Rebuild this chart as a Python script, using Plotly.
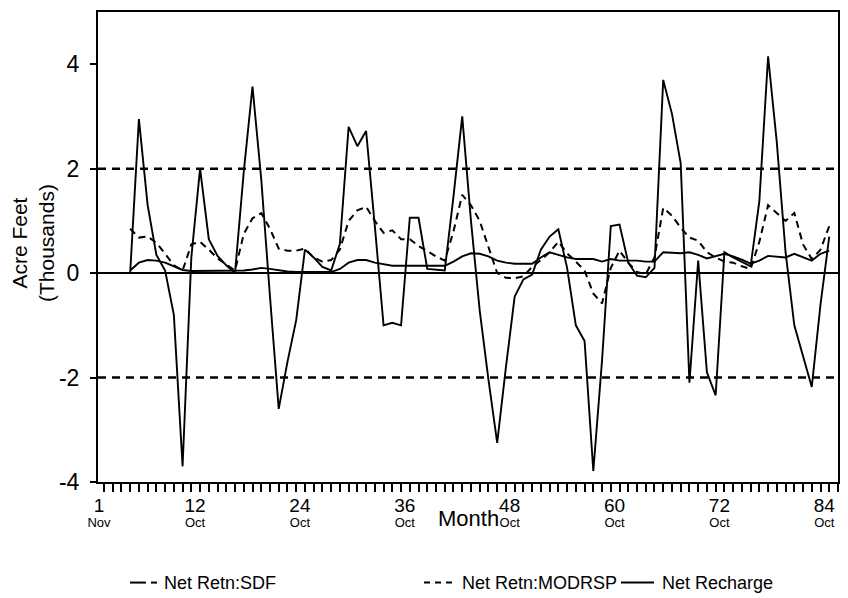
import plotly.graph_objects as go

# monthly values (thousands of acre feet), months 4..84
months = list(range(4, 85))

sdf = [0, 2.95, 1.3, 0.35, 0.05, -0.8, -3.7, 0.3, 2.0, 0.65,
       0.33, 0.15, 0.0, 1.94, 3.57, 1.8, -0.45, -2.6, -1.7, -0.9,
       0.45, 0.3, 0.12, 0.05, 0.56, 2.8, 2.43, 2.72, 0.9, -1.0,
       -0.95, -1.0, 1.06, 1.06, 0.08, 0.06, 0.05, 1.47, 3.0, 1.0,
       -0.72, -2.04, -3.25, -1.8, -0.45, -0.12, -0.03, 0.45, 0.7, 0.84,
       0.1, -1.0, -1.3, -3.79, -1.67, 0.9, 0.93, 0.2, -0.05, -0.08,
       0.1, 3.7, 3.05, 2.1, -2.1, 0.24, -1.9, -2.34, 0.4, 0.3,
       0.22, 0.13, 1.38, 4.15, 2.5, 0.4, -1.0, -1.6, -2.18, -0.6,
       0.7]

modrsp = [0.85, 0.68, 0.7, 0.58, 0.37, 0.15, 0.05, 0.55, 0.6, 0.45,
          0.28, 0.16, 0.05, 0.75, 1.05, 1.15, 0.85, 0.47, 0.43, 0.43,
          0.47, 0.3, 0.22, 0.25, 0.45, 1.0, 1.2, 1.27, 1.0, 0.77,
          0.82, 0.65, 0.65, 0.52, 0.42, 0.32, 0.24, 0.8, 1.5, 1.3,
          1.0, 0.5, 0.0, -0.09, -0.1, -0.06, 0.12, 0.25, 0.4, 0.6,
          0.38, 0.22, 0.05, -0.39, -0.58, 0.1, 0.43, 0.2, 0.02, -0.02,
          0.3, 1.25, 1.1, 0.87, 0.68, 0.62, 0.4, 0.3, 0.22, 0.2,
          0.13, 0.08, 0.6, 1.3, 1.15, 1.0, 1.15, 0.55, 0.27, 0.45,
          0.9]

recharge = [0.05, 0.2, 0.25, 0.24, 0.2, 0.13, 0.06, 0.04, 0.04, 0.04,
            0.04, 0.04, 0.04, 0.05, 0.07, 0.1, 0.08, 0.05, 0.03, 0.02,
            0.02, 0.02, 0.02, 0.02, 0.08, 0.2, 0.25, 0.25, 0.2, 0.17,
            0.14, 0.14, 0.14, 0.14, 0.14, 0.14, 0.14, 0.22, 0.32, 0.38,
            0.37, 0.32, 0.24, 0.2, 0.18, 0.18, 0.18, 0.3, 0.4, 0.35,
            0.3, 0.27, 0.27, 0.27, 0.22, 0.27, 0.24, 0.24, 0.24, 0.22,
            0.22, 0.4, 0.39, 0.38, 0.4, 0.35, 0.28, 0.33, 0.37, 0.32,
            0.26, 0.18, 0.24, 0.33, 0.31, 0.3, 0.37, 0.3, 0.24, 0.37,
            0.43]

tick_vals = [1, 12, 24, 36, 48, 60, 72, 84]
tick_nums = ["1", "12", "24", "36", "48", "60", "72", "84"]
tick_months = ["Nov", "Oct", "Oct", "Oct", "Oct", "Oct", "Oct", "Oct"]
y_ticks = [-4, -2, 0, 2, 4]
y_labels = ["-4", "-2", "0", "2", "4"]
ref_levels = [-2, 2]

NARROW = "Liberation Sans Narrow, Arial Narrow, Liberation Sans, Arial, sans-serif"
SANS = "Liberation Sans, Arial, sans-serif"

# the page body adds 8px around the figure, so the figure is 8px smaller
W, H, OFF = 848, 598, 8
# plot frame in page pixels, used to place the hand-made legend
L, R, T, B = 98, 838, 10, 482


def px(x):
    return (x - L) / (R - L)


def py(y):
    return (B - y) / (B - T)


fig = go.Figure()

fig.add_trace(go.Scatter(x=months, y=sdf, mode="lines", name="Net Retn:SDF",
                         line=dict(color="black", width=1.9)))
fig.add_trace(go.Scatter(x=months, y=modrsp, mode="lines", name="Net Retn:MODRSP",
                         line=dict(color="black", width=2, dash="7px,5px")))
fig.add_trace(go.Scatter(x=months, y=recharge, mode="lines", name="Net Recharge",
                         line=dict(color="black", width=1.9)))

for lvl in ref_levels:
    fig.add_hline(y=lvl, line=dict(color="black", width=2.5, dash="8px,6px"))
fig.add_hline(y=0, line=dict(color="black", width=2))

ticktext = [f"<span style='font-size:19px'>{n}</span><br><span style='font-size:13px'>{m}</span>"
            for n, m in zip(tick_nums, tick_months)]

fig.update_xaxes(
    range=[0.32, 85.0], tickmode="array", tickvals=tick_vals, ticktext=ticktext,
    ticks="outside", ticklen=8, tickwidth=2, tickcolor="black",
    ticklabelshift=-5, ticklabelstandoff=7,
    tickfont=dict(family=NARROW, size=11, color="black"),
    minor=dict(dtick=1, tick0=0, ticks="outside", ticklen=8, tickwidth=1.5, tickcolor="black"),
    showline=True, mirror=True, linecolor="black", linewidth=2,
    showgrid=False, zeroline=False,
)
fig.update_yaxes(
    range=[-4, 5], tickmode="array", tickvals=y_ticks, ticktext=y_labels,
    ticks="outside", ticklen=6, tickwidth=2, ticklabelstandoff=6,
    tickcolor="black", tickfont=dict(family=SANS, size=23, color="black"),
    showline=True, mirror=True, linecolor="black", linewidth=2,
    showgrid=False, zeroline=False,
)

annotations = [
    dict(text="Acre Feet<br>(Thousands)", x=px(33), y=py(242), textangle=-90,
         font=dict(family=SANS, size=21, color="black")),
    dict(text="Month", x=px(468), y=py(519),
         font=dict(family=NARROW, size=22, color="black")),
]
legend_items = [("Net Retn:SDF", 162), ("Net Retn:MODRSP", 460), ("Net Recharge", 660)]
for label, x0 in legend_items:
    annotations.append(dict(text=label, x=px(x0), y=py(583), xanchor="left",
                            font=dict(family=SANS, size=18, color="black")))
for a in annotations:
    a.update(xref="paper", yref="paper", showarrow=False)
    if "xanchor" not in a:
        a["xanchor"] = "center"
    a["yanchor"] = "middle"

shapes = [
    dict(x0=px(130), x1=px(146), dash="solid"),
    dict(x0=px(151), x1=px(157), dash="solid"),
    dict(x0=px(424), x1=px(454), dash="6px,5px"),
    dict(x0=px(621), x1=px(654), dash="solid"),
]
for s in shapes:
    fig.add_shape(type="line", xref="paper", yref="paper", x0=s["x0"], x1=s["x1"],
                  y0=py(583), y1=py(583), line=dict(color="black", width=2, dash=s["dash"]))

fig.update_layout(
    width=W - OFF, height=H - OFF,
    margin=dict(l=L - OFF, r=W - R, t=T - OFF, b=H - B),
    paper_bgcolor="white", plot_bgcolor="white",
    annotations=annotations, showlegend=False,
)

fig.write_html("out.html")
